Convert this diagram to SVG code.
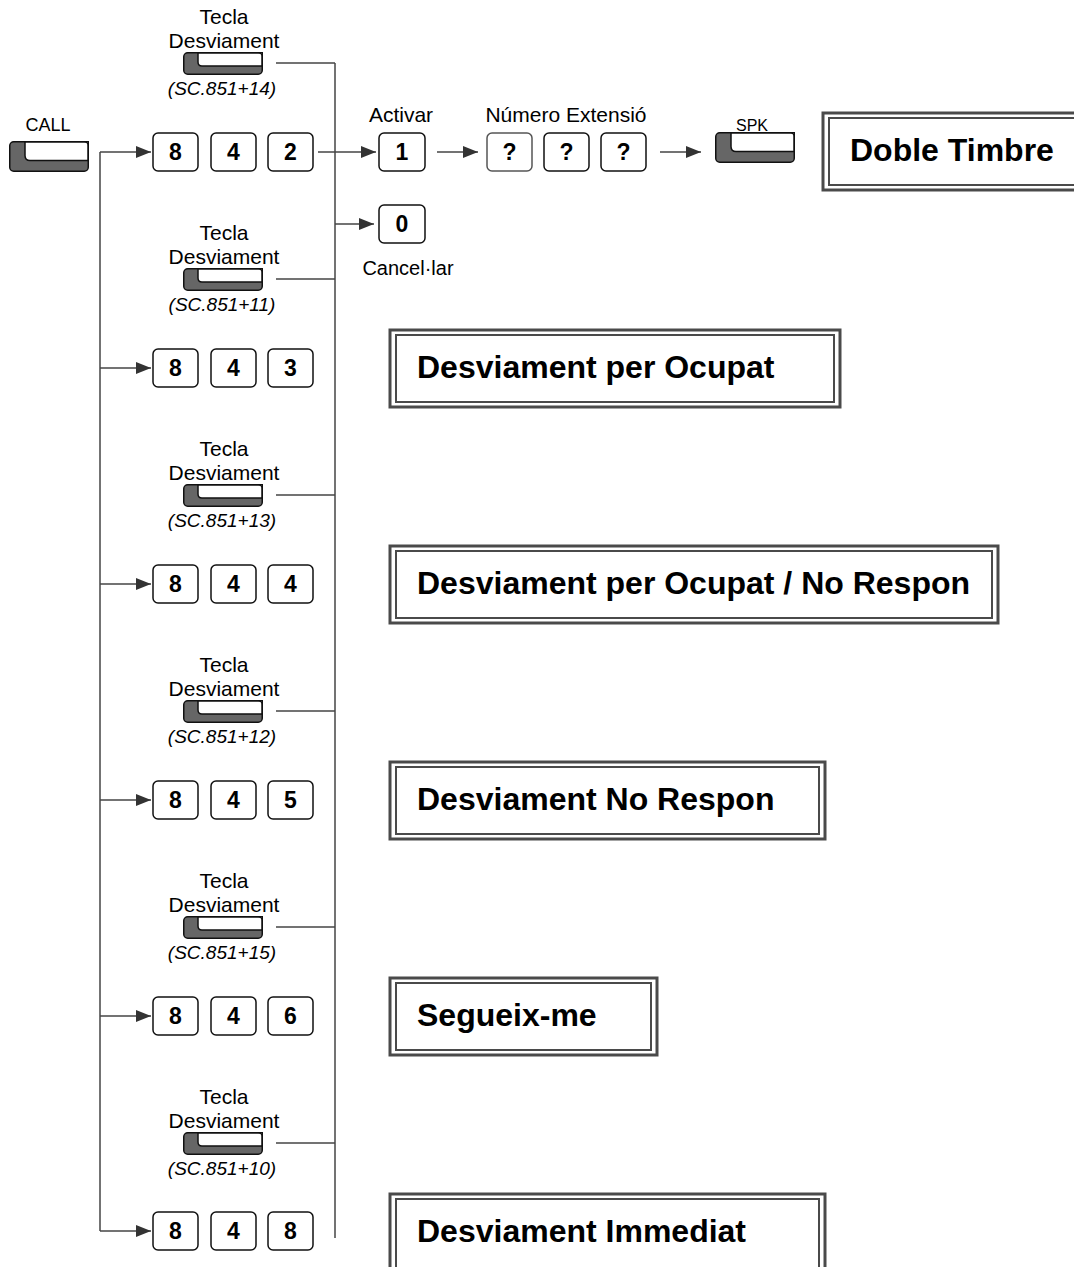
<svg xmlns="http://www.w3.org/2000/svg" xmlns:xlink="http://www.w3.org/1999/xlink" width="1074" height="1267" viewBox="0 0 1074 1267">
<style>
.t{font-family:"Liberation Sans",Arial,sans-serif;fill:#000}
.lbl{font-size:21px;text-anchor:middle}
.sc{font-size:19px;font-style:italic;text-anchor:middle}
.dg{font-size:23px;font-weight:bold;text-anchor:middle}
.big{font-size:32px;font-weight:bold}
.ln{stroke:#444;stroke-width:1.5;fill:none}
.ar{stroke:#444;stroke-width:1.5;fill:none;marker-end:url(#ah)}
.db{fill:#fff;stroke:#111;stroke-width:1.5}
.bo{fill:#fff;stroke:#4a4a4a;stroke-width:3}
.bi{fill:none;stroke:#4a4a4a;stroke-width:2}
</style>
<defs>
<marker id="ah" markerUnits="userSpaceOnUse" markerWidth="15" markerHeight="12" refX="15" refY="6" orient="auto">
<path d="M0,0 L15,6 L0,12 Z" fill="#333"/>
</marker>
<g id="keyS">
<rect x="0.75" y="0.75" width="78.5" height="21.5" rx="4" fill="#666"/>
<path d="M15,0.75 H79.25 V14 H19 Q15,14 15,10 Z" fill="#fff" stroke="#111" stroke-width="1.5"/>
<rect x="0.75" y="0.75" width="78.5" height="21.5" rx="4" fill="none" stroke="#111" stroke-width="1.5"/>
</g>
<g id="keyB">
<rect x="0.75" y="0.75" width="78.5" height="29.5" rx="4" fill="#666"/>
<path d="M16,0.75 H79.25 V19.5 H21 Q16,19.5 16,14.5 Z" fill="#fff" stroke="#111" stroke-width="1.5"/>
<rect x="0.75" y="0.75" width="78.5" height="29.5" rx="4" fill="none" stroke="#111" stroke-width="1.5"/>
</g>
</defs>
<rect width="1074" height="1267" fill="#fff"/>

<g id="connectors">
<path class="ln" d="M335,63 V1238"/>
<path class="ln" d="M100,152 V1231"/>
<path class="ln" d="M276,63 H335"/>
<path class="ln" d="M276,279 H335"/>
<path class="ln" d="M276,495 H335"/>
<path class="ln" d="M276,711 H335"/>
<path class="ln" d="M276,927 H335"/>
<path class="ln" d="M276,1143 H335"/>
<path class="ar" d="M100,152 H151"/>
<path class="ar" d="M100,368 H151"/>
<path class="ar" d="M100,584 H151"/>
<path class="ar" d="M100,800 H151"/>
<path class="ar" d="M100,1016 H151"/>
<path class="ar" d="M100,1231 H151"/>
<path class="ar" d="M318,152 H376"/>
<path class="ar" d="M335,224 H374"/>
<path class="ar" d="M437,152 H478"/>
<path class="ar" d="M660,152 H701"/>
</g>

<g id="call">
<text class="t" x="48" y="131" font-size="18" text-anchor="middle">CALL</text>
<use xlink:href="#keyB" x="9" y="141"/>
</g>

<g id="tecla-14">
<text class="t lbl" x="224" y="24">Tecla</text>
<text class="t lbl" x="224" y="48">Desviament</text>
<use xlink:href="#keyS" x="183" y="52"/>
<text class="t sc" x="222" y="95">(SC.851+14)</text>
</g>
<g id="tecla-11">
<text class="t lbl" x="224" y="240">Tecla</text>
<text class="t lbl" x="224" y="264">Desviament</text>
<use xlink:href="#keyS" x="183" y="268"/>
<text class="t sc" x="222" y="311">(SC.851+11)</text>
</g>
<g id="tecla-13">
<text class="t lbl" x="224" y="456">Tecla</text>
<text class="t lbl" x="224" y="480">Desviament</text>
<use xlink:href="#keyS" x="183" y="484"/>
<text class="t sc" x="222" y="527">(SC.851+13)</text>
</g>
<g id="tecla-12">
<text class="t lbl" x="224" y="672">Tecla</text>
<text class="t lbl" x="224" y="696">Desviament</text>
<use xlink:href="#keyS" x="183" y="700"/>
<text class="t sc" x="222" y="743">(SC.851+12)</text>
</g>
<g id="tecla-15">
<text class="t lbl" x="224" y="888">Tecla</text>
<text class="t lbl" x="224" y="912">Desviament</text>
<use xlink:href="#keyS" x="183" y="916"/>
<text class="t sc" x="222" y="959">(SC.851+15)</text>
</g>
<g id="tecla-10">
<text class="t lbl" x="224" y="1104">Tecla</text>
<text class="t lbl" x="224" y="1128">Desviament</text>
<use xlink:href="#keyS" x="183" y="1132"/>
<text class="t sc" x="222" y="1175">(SC.851+10)</text>
</g>

<g id="code-842">
<rect class="db" x="153" y="133" width="45" height="38" rx="5"/><text class="t dg" x="175.5" y="160">8</text>
<rect class="db" x="211" y="133" width="45" height="38" rx="5"/><text class="t dg" x="233.5" y="160">4</text>
<rect class="db" x="268" y="133" width="45" height="38" rx="5"/><text class="t dg" x="290.5" y="160">2</text>
</g>
<g id="code-843">
<rect class="db" x="153" y="349" width="45" height="38" rx="5"/><text class="t dg" x="175.5" y="376">8</text>
<rect class="db" x="211" y="349" width="45" height="38" rx="5"/><text class="t dg" x="233.5" y="376">4</text>
<rect class="db" x="268" y="349" width="45" height="38" rx="5"/><text class="t dg" x="290.5" y="376">3</text>
</g>
<g id="code-844">
<rect class="db" x="153" y="565" width="45" height="38" rx="5"/><text class="t dg" x="175.5" y="592">8</text>
<rect class="db" x="211" y="565" width="45" height="38" rx="5"/><text class="t dg" x="233.5" y="592">4</text>
<rect class="db" x="268" y="565" width="45" height="38" rx="5"/><text class="t dg" x="290.5" y="592">4</text>
</g>
<g id="code-845">
<rect class="db" x="153" y="781" width="45" height="38" rx="5"/><text class="t dg" x="175.5" y="808">8</text>
<rect class="db" x="211" y="781" width="45" height="38" rx="5"/><text class="t dg" x="233.5" y="808">4</text>
<rect class="db" x="268" y="781" width="45" height="38" rx="5"/><text class="t dg" x="290.5" y="808">5</text>
</g>
<g id="code-846">
<rect class="db" x="153" y="997" width="45" height="38" rx="5"/><text class="t dg" x="175.5" y="1024">8</text>
<rect class="db" x="211" y="997" width="45" height="38" rx="5"/><text class="t dg" x="233.5" y="1024">4</text>
<rect class="db" x="268" y="997" width="45" height="38" rx="5"/><text class="t dg" x="290.5" y="1024">6</text>
</g>
<g id="code-848">
<rect class="db" x="153" y="1212" width="45" height="38" rx="5"/><text class="t dg" x="175.5" y="1239">8</text>
<rect class="db" x="211" y="1212" width="45" height="38" rx="5"/><text class="t dg" x="233.5" y="1239">4</text>
<rect class="db" x="268" y="1212" width="45" height="38" rx="5"/><text class="t dg" x="290.5" y="1239">8</text>
</g>

<g id="activar">
<text class="t lbl" x="401" y="122">Activar</text>
<rect class="db" x="379" y="133" width="46" height="38" rx="5"/><text class="t dg" x="402" y="160">1</text>
</g>
<g id="cancelar">
<rect class="db" x="379" y="205" width="46" height="38" rx="5"/><text class="t dg" x="402" y="232">0</text>
<text class="t" x="408" y="275" font-size="20" text-anchor="middle">Cancel·lar</text>
</g>
<g id="numero-extensio">
<text class="t lbl" x="566" y="122">Número Extensió</text>
<rect class="db" x="487" y="133" width="45" height="38" rx="5" style="stroke:#555"/><text class="t dg" x="509.5" y="160">?</text>
<rect class="db" x="544" y="133" width="45" height="38" rx="5"/><text class="t dg" x="566.5" y="160">?</text>
<rect class="db" x="601" y="133" width="45" height="38" rx="5"/><text class="t dg" x="623.5" y="160">?</text>
</g>
<g id="spk">
<use xlink:href="#keyB" x="715" y="132"/>
<text class="t" x="752" y="131" font-size="16" text-anchor="middle">SPK</text>
</g>

<g id="doble-timbre">
<rect class="bo" x="823" y="113" width="270" height="77"/>
<rect class="bi" x="829" y="118" width="260" height="67"/>
<text class="t big" x="850" y="161">Doble Timbre</text>
</g>
<g id="desv-ocupat">
<rect class="bo" x="390" y="330" width="450" height="77"/>
<rect class="bi" x="396" y="335" width="438" height="67"/>
<text class="t big" x="417" y="378">Desviament per Ocupat</text>
</g>
<g id="desv-ocupat-no-respon">
<rect class="bo" x="390" y="546" width="608" height="77"/>
<rect class="bi" x="396" y="551" width="596" height="67"/>
<text class="t big" x="417" y="594">Desviament per Ocupat / No Respon</text>
</g>
<g id="desv-no-respon">
<rect class="bo" x="390" y="762" width="435" height="77"/>
<rect class="bi" x="396" y="767" width="423" height="67"/>
<text class="t big" x="417" y="810">Desviament No Respon</text>
</g>
<g id="segueix-me">
<rect class="bo" x="390" y="978" width="267" height="77"/>
<rect class="bi" x="396" y="983" width="255" height="67"/>
<text class="t big" x="417" y="1026">Segueix-me</text>
</g>
<g id="desv-immediat">
<rect class="bo" x="390" y="1194" width="435" height="90"/>
<rect class="bi" x="396" y="1199" width="423" height="80"/>
<text class="t big" x="417" y="1242">Desviament Immediat</text>
</g>
</svg>
